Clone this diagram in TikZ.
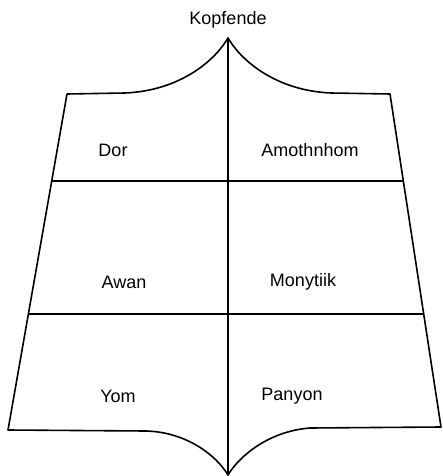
\documentclass[tikz,border=0pt]{standalone}
\usepackage{fontspec}
\setmainfont{Liberation Sans}
\begin{document}
\begin{tikzpicture}[x=1pt,y=-1pt,
  outline/.style={line width=1.6pt,line join=round},
  lbl/.style={font=\fontsize{18}{20}\selectfont,inner sep=0pt}]
\useasboundingbox (0,0) rectangle (442,476);
\coordinate (top) at (228,38);
\coordinate (bot) at (228,475);
\coordinate (tl) at (67,94);
\coordinate (tr) at (390,94);
\coordinate (bl) at (8,430);
\coordinate (br) at (441,427);
\coordinate (l1) at (51.7,181);
\coordinate (r1) at (403.3,181);
\coordinate (l2) at (28.4,314);
\coordinate (r2) at (423.7,314);
\draw[outline] (bl) -- (tl) -- (125,93) .. controls (175,91) and (212,65) .. (top)
  .. controls (244,65) and (281,91) .. (331,93) -- (tr) -- (br) -- (310,428)
  .. controls (270,431) and (240,455) .. (bot)
  .. controls (216,455) and (186,432) .. (146,431) -- cycle;
\draw[outline] (top) -- (bot);
\draw[outline] (l1) -- (r1);
\draw[outline] (l2) -- (r2);
\node[lbl] (kopf) at (228,20) {Kopfende};
\node[lbl] (dor) at (113,150) {Dor};
\node[lbl] (amo) at (310,150) {Amothnhom};
\node[lbl] (awan) at (124,282) {Awan};
\node[lbl] (mony) at (303,282) {Monytiik};
\node[lbl] (yom) at (118,396) {Yom};
\node[lbl] (pany) at (292,396) {Panyon};
\end{tikzpicture}
\end{document}
